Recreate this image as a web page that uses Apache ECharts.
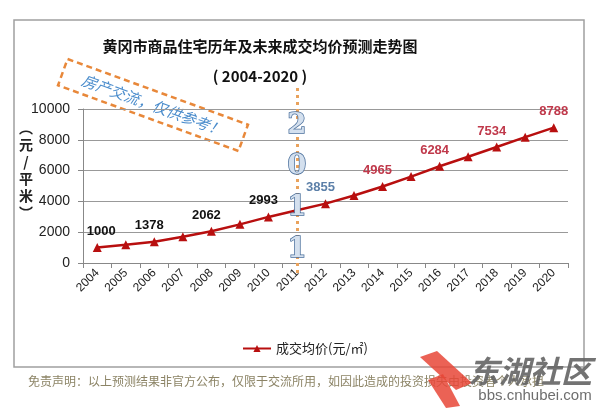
<!DOCTYPE html>
<html>
<head>
<meta charset="utf-8">
<script src="https://cdn.jsdelivr.net/npm/echarts/dist/echarts.min.js"></script>
<style>
html,body{margin:0;padding:0;background:#fff;}
#chart{width:601px;height:408px;}
</style>
</head>
<body>
<div id="chart"></div>
<script>
// 年份与成交均价（元/平米），偶数年份带数值标签
var years = ["2004","2005","2006","2007","2008","2009","2010","2011","2012","2013","2014","2015","2016","2017","2018","2019","2020"];
var prices = [1000,1180,1378,1710,2062,2510,2993,3420,3855,4380,4965,5610,6284,6900,7534,8170,8788];
var yTicks = [0,2000,4000,6000,8000,10000];
var yUnit = ["︵","元","/","平","米","︶"];
// 2011 分界线上的竖排数字
var splitYear = "2011";
var splitDigits = ["2","0","1","1"];
var digitLevels = [8900,6250,3570,840];

var chart = echarts.init(document.getElementById("chart"));

function labelColor(year){
	if(year < "2011") return "#111";
	if(year === "2012") return "#5b7fa8";
	return "#c0394b";
}

var seriesData = prices.map(function(v,i){
	var item = {value:v};
	if(i % 2 === 0){
		item.label = {show:true,color:labelColor(years[i]),offset:[i === 0 ? 4 : (i === 16 ? 0 : -5),0]};
	}
	return item;
});

var option = {
	backgroundColor:"#fff",
	animation:false,
	grid:[
		{left:83,right:33,top:109,bottom:145},
		//分界虚线比绘图区上下各长一点
		{left:83,right:33,top:88,bottom:135}
	],
	legend:{
		top:337,left:237,
		itemWidth:28,itemHeight:9,
		textStyle:{fontSize:13,color:"#222",fontFamily:"Noto Sans CJK SC"},
		data:["成交均价(元/㎡)"]
	},
	xAxis:[{
		type:"category",
		data:years,
		boundaryGap:true,
		axisLine:{lineStyle:{color:"#888"}},
		axisTick:{show:true,length:5,lineStyle:{color:"#888"}},
		axisLabel:{rotate:45,fontSize:12,color:"#222",margin:8,fontFamily:"Liberation Sans"}
	},{
		type:"category",gridIndex:1,data:years,boundaryGap:true,show:false
	}],
	yAxis:[{
		type:"value",
		min:yTicks[0],max:yTicks[yTicks.length-1],interval:2000,
		axisLine:{show:true,lineStyle:{color:"#888"}},
		axisTick:{show:true,length:5,lineStyle:{color:"#888"}},
		axisLabel:{fontSize:14,color:"#222",margin:13,fontFamily:"Liberation Sans",formatter:function(v){return String(v);}},
		splitLine:{lineStyle:{color:"#999",width:1}}
	},{
		type:"value",gridIndex:1,min:0,max:1,show:false
	}],
	series:[{
		name:"成交均价(元/㎡)",
		type:"line",
		data:seriesData,
		symbol:"triangle",
		symbolSize:9,
		z:3,
		itemStyle:{color:"#b80f0f"},
		lineStyle:{color:"#b80f0f",width:2.5},
		label:{show:false,position:"top",fontSize:13,fontWeight:"bold",fontFamily:"Liberation Sans"},
		markPoint:{
			silent:true,
			symbol:"circle",
			symbolSize:1,
			itemStyle:{color:"rgba(0,0,0,0)"},
			label:{show:true,position:"inside",fontSize:27,fontWeight:"bold",fontFamily:"DejaVu Serif",
				color:"#d4e0ee",textBorderColor:"#4a6f9c",textBorderWidth:1.5,
				formatter:function(p){return p.name;}},
			data:splitDigits.map(function(d,i){
				return {name:d,coord:[splitYear,digitLevels[i]]};
			})
		}
	},{
		type:"line",
		xAxisIndex:1,yAxisIndex:1,
		data:[],
		z:1,
		markLine:{
			silent:true,
			symbol:"none",
			label:{show:false},
			lineStyle:{color:"#e9a25c",type:[3,4],width:3},
			data:[{xAxis:splitYear}]
		}
	}],
	graphic:[
		{type:"rect",shape:{x:14,y:20,width:570,height:347},style:{fill:"none",stroke:"#a0a0a0",lineWidth:1.5},z:-1},
		{type:"text",x:260,y:46,style:{text:"黄冈市商品住宅历年及未来成交均价预测走势图",align:"center",verticalAlign:"middle",
			font:"bold 15px 'Noto Sans CJK SC'",fill:"#111"}},
		{type:"text",x:260,y:76,style:{text:"( 2004-2020 )",align:"center",verticalAlign:"middle",
			font:"bold 15px 'Noto Sans CJK SC'",fill:"#111"}},
		//竖排的纵轴单位
		{type:"text",x:26,y:170,style:{text:yUnit.join("\n"),align:"center",verticalAlign:"middle",lineHeight:17,
			font:"bold 14px 'Noto Sans CJK SC'",fill:"#222"}},
		{type:"group",x:153,y:105,rotation:-20*Math.PI/180,z:100,children:[
			{type:"rect",shape:{x:-96,y:-14,width:192,height:28},style:{fill:"none",stroke:"#e8883a",lineWidth:2.5,lineDash:[6,4]}},
			{type:"text",x:0,y:0,style:{text:"房产交流，仅供参考！",align:"center",verticalAlign:"middle",
				font:"italic 15px 'Noto Sans CJK SC'",fill:"#4a8ccc"}}
		]},
		{type:"text",x:28,y:381,style:{text:"免责声明：以上预测结果非官方公布，仅限于交流所用，如因此造成的投资损失由投资者个人承担",
			verticalAlign:"middle",font:"12px 'Noto Sans CJK SC'",fill:"#8c8466"}},
		{type:"polygon",shape:{points:[[420,357],[437,351],[472,383],[456,390]]},style:{fill:"rgba(232,70,55,0.85)"},z:101},
		{type:"polygon",shape:{points:[[428,380],[443,374],[460,406],[446,408]]},style:{fill:"rgba(232,70,55,0.85)"},z:101},
		{type:"text",x:530,y:371,z:101,style:{text:"东湖社区",align:"center",verticalAlign:"middle",
			font:"italic bold 31px 'Noto Sans CJK SC'",fill:"rgba(100,100,100,0.9)"}},
		{type:"text",x:535,y:396,z:101,style:{text:"bbs.cnhubei.com",align:"center",verticalAlign:"middle",
			font:"15px 'Liberation Sans'",fill:"#6e6e6e"}}
	]
};

chart.setOption(option);
</script>
</body>
</html>
